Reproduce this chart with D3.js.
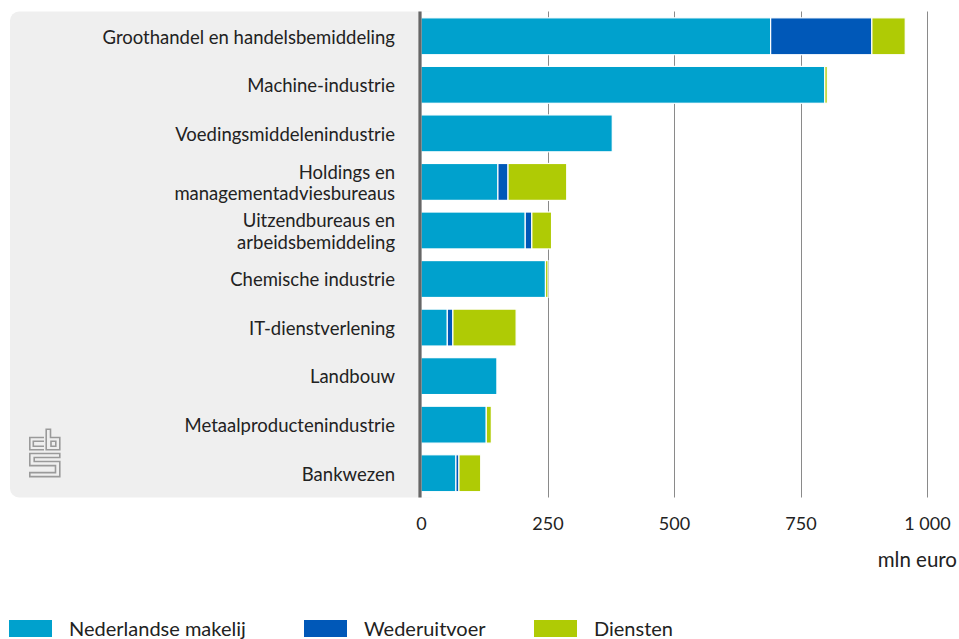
<!DOCTYPE html>
<html>
<head>
<meta charset="utf-8">
<script src="https://cdn.jsdelivr.net/npm/d3@7"></script>
<style>
html,body{margin:0;padding:0;background:#fff;}
svg text{font-family:Lato,"Noto Sans",sans-serif;fill:#222;}
</style>
</head>
<body>
<svg id="chart" width="959" height="639"></svg>
<script>
const categories = [
  ["Groothandel en handelsbemiddeling"],
  ["Machine-industrie"],
  ["Voedingsmiddelenindustrie"],
  ["Holdings en", "managementadviesbureaus"],
  ["Uitzendbureaus en", "arbeidsbemiddeling"],
  ["Chemische industrie"],
  ["IT-dienstverlening"],
  ["Landbouw"],
  ["Metaalproductenindustrie"],
  ["Bankwezen"]
];
const seriesNames = ["Nederlandse makelij", "Wederuitvoer", "Diensten"];
const nederlandse = [691, 798, 378, 152, 206, 246, 52, 150, 129, 69];
const wederuitvoer = [200, 0, 0, 20, 13, 0, 11, 0, 0, 6];
const diensten = [66, 5, 0, 116, 39, 5, 125, 0, 10, 43];
const tickValues = [0, 250, 500, 750, 1000];
const tickLabels = ["0", "250", "500", "750", "1 000"];
const unitLabel = "mln euro";
const colors = ["#00a1cd", "#0058b8", "#afcb05"];

const svg = d3.select("#chart");
const keys = ["ned", "wed", "dien"];
const rows = categories.map((c, i) => ({id: i, label: c, ned: nederlandse[i], wed: wederuitvoer[i], dien: diensten[i]}));

const x = d3.scaleLinear().domain([0, 1000]).range([421, 927]);
const y = d3.scaleBand().domain(rows.map(d => d.id)).range([12, 497.5]).paddingInner(0.24).paddingOuter(0.12);

// grey label panel
svg.append("rect").attr("x", 10).attr("y", 11.5).attr("width", 430).attr("height", 486)
  .attr("rx", 9).attr("fill", "#efefef");
svg.append("rect").attr("x", 421).attr("y", 11.5).attr("width", 30).attr("height", 486).attr("fill", "#fff");

// gridlines
svg.append("g").selectAll("line").data(tickValues.slice(1)).join("line")
  .attr("x1", d => Math.round(x(d)) + 0.5).attr("x2", d => Math.round(x(d)) + 0.5)
  .attr("y1", 11.5).attr("y2", 497.5)
  .attr("stroke", "#8a8a8a").attr("stroke-width", 1);

// bars
const stack = d3.stack().keys(keys)(rows);
svg.append("g").selectAll("g").data(stack).join("g")
  .attr("fill", (d, i) => colors[i])
  .selectAll("rect").data(d => d.filter(s => s[1] - s[0] > 0)).join("rect")
  .attr("x", d => x(d[0]))
  .attr("width", d => x(d[1]) - x(d[0]))
  .attr("y", d => y(d.data.id))
  .attr("height", y.bandwidth())
  .attr("stroke", "#fff").attr("stroke-width", 1.2);

// zero axis line
svg.append("line").attr("x1", 420).attr("x2", 420).attr("y1", 11.5).attr("y2", 497.5)
  .attr("stroke", "#666").attr("stroke-width", 3.2);

// category labels
const lab = svg.append("g").selectAll("text").data(rows).join("text")
  .attr("text-anchor", "end").attr("font-size", 18.5)
  .attr("transform", d => `translate(395,${y(d.id) + y.bandwidth() / 2 + 0.8})`);
lab.selectAll("tspan").data(d => d.label.map((t, j) => ({t, j, n: d.label.length}))).join("tspan")
  .attr("x", 0)
  .attr("y", d => d.n === 1 ? 0 : (d.j === 0 ? -10.5 : 10.8))
  .attr("dy", "0.35em")
  .text(d => d.t);

// x axis tick labels
const xAxis = d3.axisBottom(x).tickValues(tickValues).tickFormat((d, i) => tickLabels[i]).tickSize(0).tickPadding(0);
const ax = svg.append("g").attr("transform", "translate(0,517)").call(xAxis);
ax.select(".domain").remove();
ax.selectAll("text").attr("font-size", 18).attr("fill", "#222").attr("dy", "0.71em")
  .style("font-family", "Lato, 'Noto Sans', sans-serif");

svg.append("text").attr("x", 957).attr("y", 560).attr("dy", "0.35em")
  .attr("text-anchor", "end").attr("font-size", 20.5).text(unitLabel);

// legend
const legendX = [9, 304, 534];
const lg = svg.append("g").selectAll("g").data(seriesNames).join("g")
  .attr("transform", (d, i) => `translate(${legendX[i]},620)`);
lg.append("rect").attr("width", 43).attr("height", 17).attr("fill", (d, i) => colors[i]);
lg.append("text").attr("x", 60).attr("y", 8.5).attr("dy", "0.35em").attr("font-size", 20).text(d => d);

// CBS logo
const logo = svg.append("g").attr("fill", "none").attr("stroke", "#9a9a9a").attr("stroke-width", 1.6);
logo.append("path").attr("d", "M44,437.5 H29.8 V449.8 H44 M44,441.2 H33.3 V446.2 H44");
logo.append("path").attr("d", "M46.2,429.3 V449.8 H59.8 V437.5 H50.5 V429.3 Z M51,441.2 H55.8 V446.2 H51 Z");
logo.append("path").attr("d", "M59.8,453.5 H29.8 V465.6 H55.5 V472.6 H29.8 V476.6 H59.8 V461.5 H34.2 V457.5 H59.8 Z");
</script>
</body>
</html>
